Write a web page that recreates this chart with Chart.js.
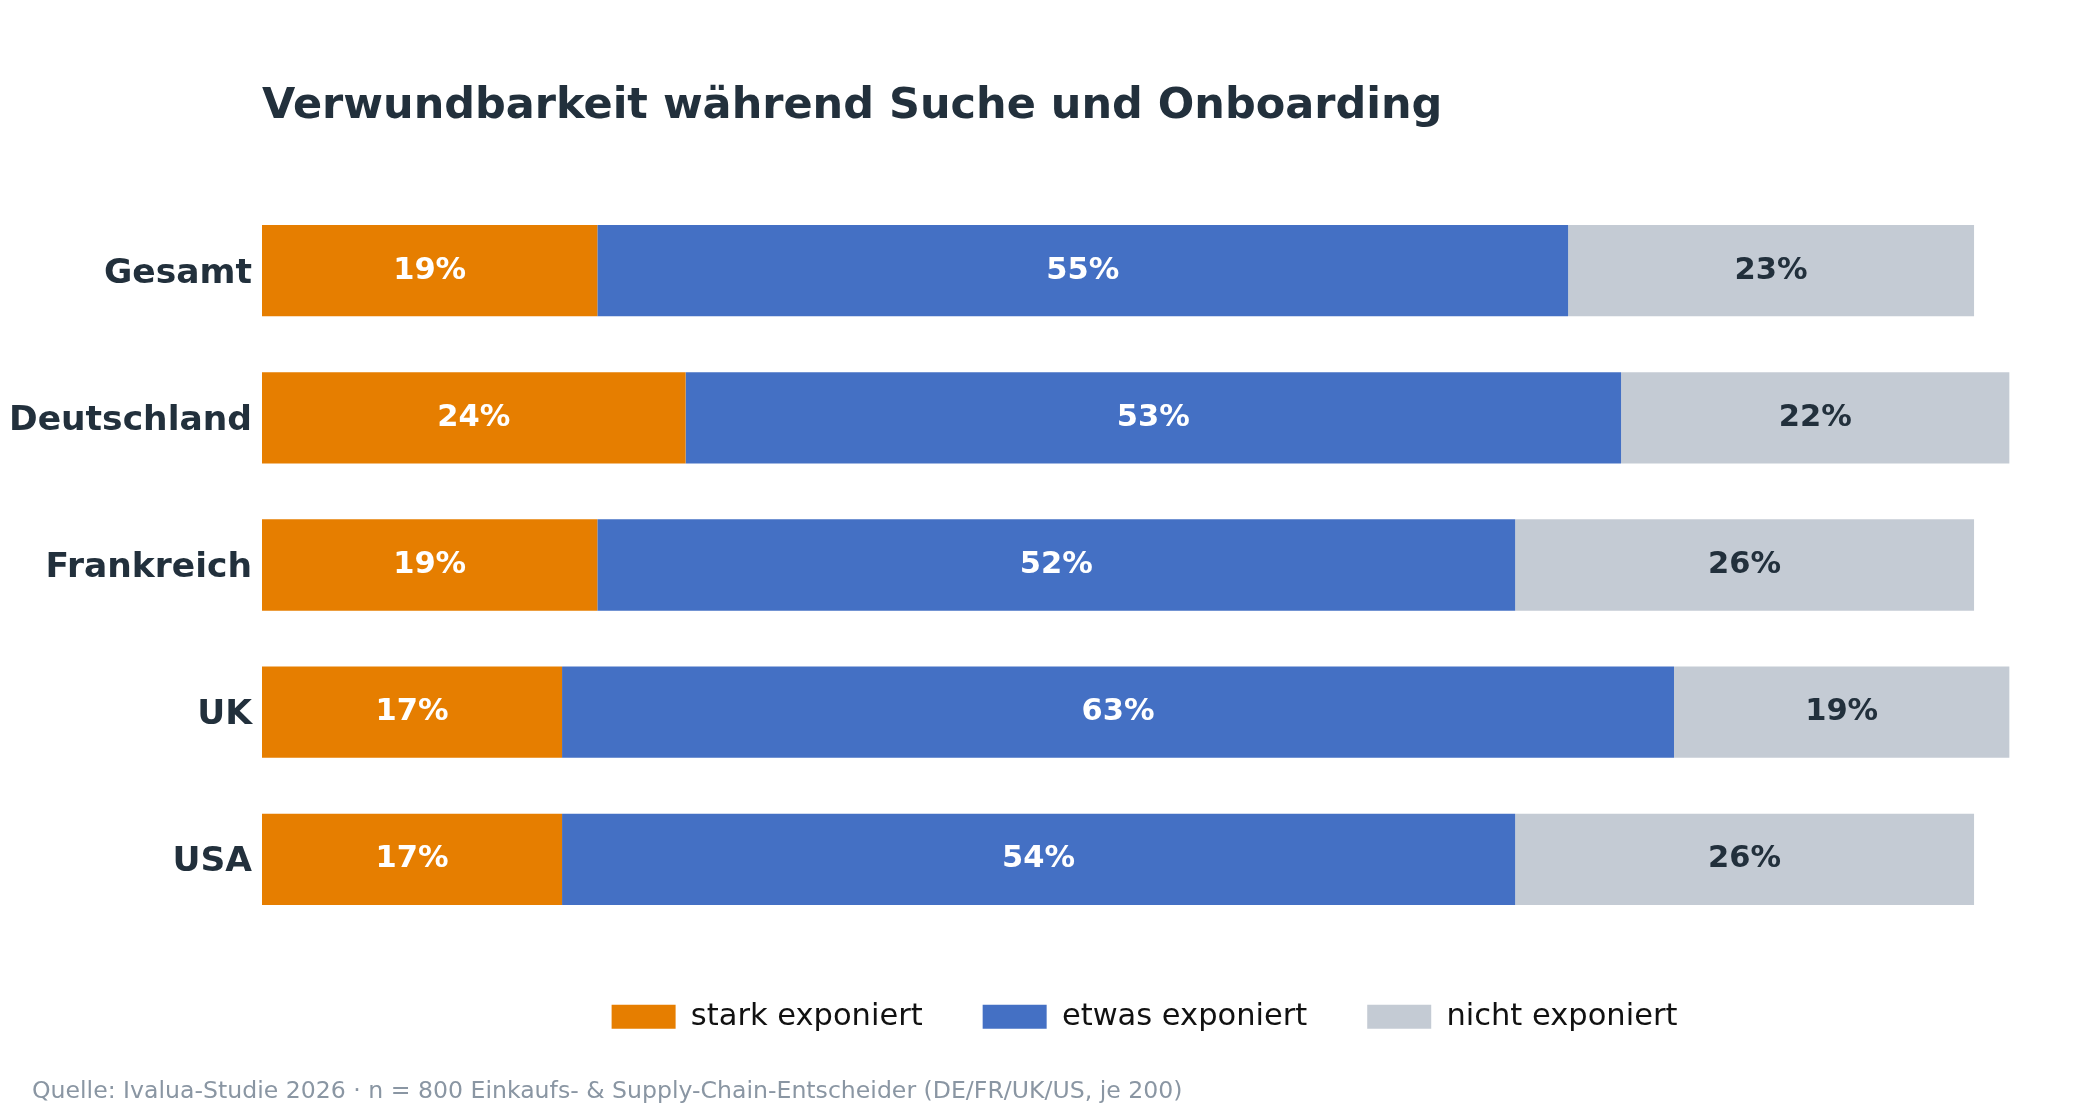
<!DOCTYPE html>
<html lang="de">
<head>
<meta charset="utf-8">
<title>Verwundbarkeit während Suche und Onboarding</title>
<script src="https://cdn.jsdelivr.net/npm/chart.js@4/dist/chart.umd.min.js"></script>
<style>
    html, body { margin: 0; padding: 0; background: #ffffff; }
    #wrap { width: 2100px; height: 1120px; }
</style>
</head>
<body>
<div id="wrap"><canvas id="myChart" width="2100" height="1120"></canvas></div>
<script>
const titleText = "Verwundbarkeit während Suche und Onboarding";
const sourceText = "Quelle: Ivalua-Studie 2026 · n = 800 Einkaufs- & Supply-Chain-Entscheider (DE/FR/UK/US, je 200)";

const countries = ["Gesamt", "Deutschland", "Frankreich", "UK", "USA"];
const seriesNames = ["stark exponiert", "etwas exponiert", "nicht exponiert"];
const stark = [19, 24, 19, 17, 17];
const etwas = [55, 53, 52, 63, 54];
const nicht = [23, 22, 26, 19, 26];

const colors = ['#E67E00', '#4470C4', '#C4CBD4'];
const labelColors = ['#FFFFFF', '#FFFFFF', '#22303C'];
const dark = '#22303C';
const font = "'DejaVu Sans', sans-serif";

// Prozentwerte mittig in die Balken schreiben, Titel und Quelle dazu
const textPlugin = {
    id: 'texts',
    afterDatasetsDraw(chart) {
        const c = chart.ctx;
        c.save();
        c.font = "bold 30.5px " + font;
        c.textAlign = 'center';
        c.textBaseline = 'middle';
        chart.data.datasets.forEach((ds, i) => {
            chart.getDatasetMeta(i).data.forEach((bar, j) => {
                const p = bar.getCenterPoint();
                c.fillStyle = labelColors[i];
                c.fillText(ds.data[j] + '%', p.x, p.y);
            });
        });
        c.restore();
    },
    afterDraw(chart) {
        const c = chart.ctx;
        c.save();
        c.textAlign = 'left';
        c.textBaseline = 'middle';
        c.fillStyle = dark;
        c.font = "bold 43px " + font;
        c.fillText(titleText, chart.chartArea.left, 107);
        c.fillStyle = '#8A96A3';
        c.font = "23.6px " + font;
        c.fillText(sourceText, 32, 1092);
        c.restore();
    }
};

const ctx = document.getElementById("myChart").getContext("2d");

let chart = new Chart(ctx, {
    type: 'bar',
    data: {
        labels: countries,
        datasets: [
            { label: seriesNames[0], data: stark, backgroundColor: colors[0] },
            { label: seriesNames[1], data: etwas, backgroundColor: colors[1] },
            { label: seriesNames[2], data: nicht, backgroundColor: colors[2] }
        ]
    },
    options: {
        indexAxis: 'y',
        responsive: false,
        animation: false,
        devicePixelRatio: 1,
        datasets: {
            bar: { categoryPercentage: 1, barPercentage: 0.62, borderWidth: 0 }
        },
        layout: {
            padding: { top: 197, right: 73, bottom: 78, left: 10 }
        },
        scales: {
            x: {
                stacked: true,
                min: 0,
                max: 100,
                grid: { display: false },
                border: { display: false },
                ticks: { display: false },
                afterFit(scale) { scale.height = 8.5; }
            },
            y: {
                stacked: true,
                grid: { display: false, drawTicks: false },
                border: { display: false },
                ticks: {
                    padding: 10,
                    labelOffset: 3,
                    color: dark,
                    font: { family: font, size: 34.5, weight: 'bold' }
                },
                afterFit(scale) { scale.width = 252; }
            }
        },
        plugins: {
            legend: {
                position: 'bottom',
                fullSize: false,
                labels: {
                    boxWidth: 64,
                    boxHeight: 24,
                    padding: 60,
                    color: '#111111',
                    font: { family: font, size: 30.5 }
                }
            },
            tooltip: { enabled: false },
            title: { display: false }
        }
    },
    plugins: [textPlugin]
});
</script>
</body>
</html>
